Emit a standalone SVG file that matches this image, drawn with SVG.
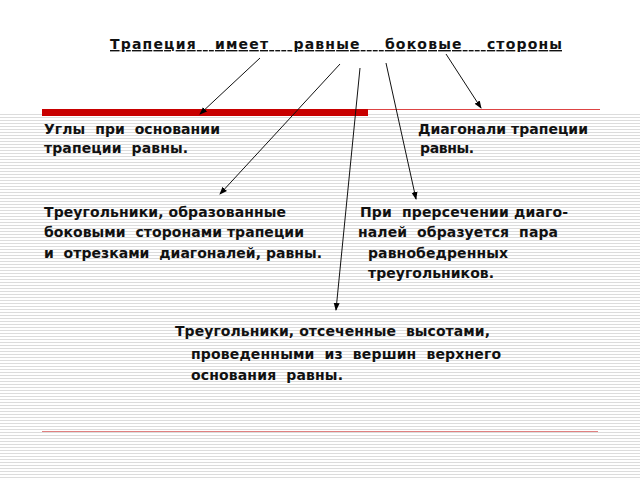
<svg xmlns="http://www.w3.org/2000/svg" width="640" height="480" viewBox="0 0 640 480">
<defs>
<pattern id="st" width="4" height="3" patternUnits="userSpaceOnUse"><rect width="4" height="1" fill="#dcdcdc"/></pattern>
<marker id="ar" markerWidth="8" markerHeight="8" refX="7" refY="4" orient="auto" markerUnits="userSpaceOnUse"><path d="M0,1 L8,4 L0,7 z" fill="#000"/></marker>
<style>
text{font-family:"DejaVu Sans","Liberation Sans",sans-serif;font-weight:bold;font-size:14px;fill:#111}
.c line{stroke:#111;stroke-width:1;marker-end:url(#ar)}
</style>
</defs>
<rect width="640" height="480" fill="#fff"/>
<rect x="0" y="113" width="640" height="367" fill="url(#st)"/>
<rect x="42" y="109" width="326" height="7" fill="#c80000"/>
<line x1="368" y1="109.5" x2="600" y2="109.5" stroke="#d44" stroke-width="1"/>
<line x1="42" y1="431.5" x2="598" y2="431.5" stroke="#e08080" stroke-width="1"/>
<g id="title"><text x="110" y="49" font-size="15" text-decoration="underline" xml:space="preserve" textLength="452">Трапеция   имеет    равные    боковые    стороны</text></g>
<g id="n1"><text x="44" y="134" xml:space="preserve" textLength="176">Углы  при  основании</text><text x="44" y="153" xml:space="preserve" textLength="144">трапеции  равны.</text></g>
<g id="n2"><text x="418" y="134" textLength="170">Диагонали трапеции</text><text x="420" y="153" textLength="54">равны.</text></g>
<g id="n3"><text x="44" y="217" textLength="242">Треугольники, образованные</text><text x="44" y="237" xml:space="preserve" textLength="260">боковыми  сторонами трапеции</text><text x="44" y="258" xml:space="preserve" textLength="278">и  отрезками  диагоналей, равны.</text></g>
<g id="n4"><text x="360" y="217" xml:space="preserve" textLength="208">При  прерсечении диаго-</text><text x="358" y="237" xml:space="preserve" textLength="200">налей  образуется  пара</text><text x="368" y="258" textLength="140">равнобедренных</text><text x="368" y="278" textLength="126">треугольников.</text></g>
<g id="n5"><text x="175" y="336" xml:space="preserve" textLength="315">Треугольники, отсеченные  высотами,</text><text x="191" y="359" xml:space="preserve" textLength="310">проведенными  из  вершин  верхнего</text><text x="191" y="380" xml:space="preserve" textLength="152">основания  равны.</text></g>
<g class="c" id="connectors">
<line x1="260" y1="58" x2="200" y2="114"/>
<line x1="340" y1="64" x2="220" y2="194"/>
<line x1="360" y1="68" x2="336" y2="310"/>
<line x1="386" y1="63" x2="416" y2="199"/>
<line x1="446" y1="54" x2="481" y2="108"/>
</g>
</svg>
